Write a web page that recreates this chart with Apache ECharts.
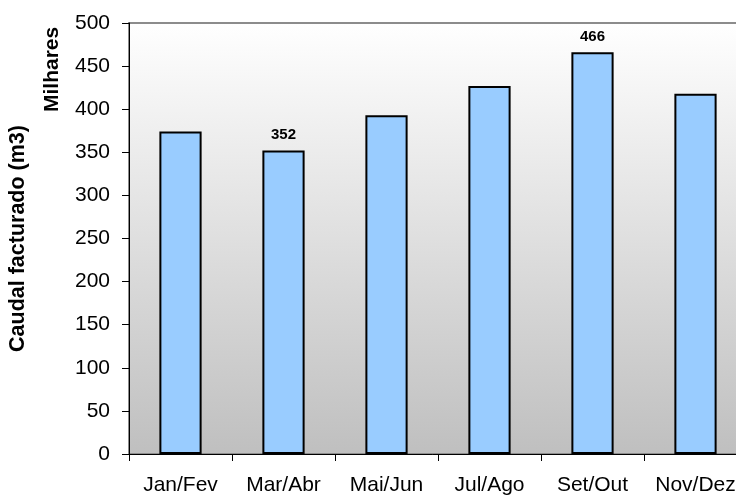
<!DOCTYPE html>
<html>
<head>
<meta charset="utf-8">
<script src="https://cdn.jsdelivr.net/npm/echarts@6/dist/echarts.min.js"></script>
<style>
  html, body { margin: 0; padding: 0; background: #fff; }
  #chart { width: 736px; height: 495px; }
</style>
</head>
<body>
<div id="chart"></div>
<script>
const categories = ['Jan/Fev', 'Mar/Abr', 'Mai/Jun', 'Jul/Ago', 'Set/Out', 'Nov/Dez'];
const caudal = [374, 352, 393, 427, 466, 418];
// only these bars carry a value label in the original
const labelled = ['Mar/Abr', 'Set/Out'];
const yTicks = { min: 0, max: 500, interval: 50 };

const chart = echarts.init(document.getElementById('chart'));
const font = 'Liberation Sans, Arial, sans-serif';

chart.setOption({
  animation: false,
  grid: {
    left: 129, top: 23, width: 618, height: 431,
    outerBoundsMode: 'none',
    containLabel: false,
    show: true,
    borderColor: '#8c8c8c',
    borderWidth: 2,
    backgroundColor: new echarts.graphic.LinearGradient(0, 0, 0, 1, [
      { offset: 0, color: '#ffffff' },
      { offset: 1, color: '#bfbfbf' }
    ])
  },
  graphic: [{
    type: 'text',
    x: 52, y: 112,
    rotation: Math.PI / 2,
    style: {
      text: 'Milhares',
      font: 'bold 21px ' + font,
      fill: '#000',
      align: 'left',
      verticalAlign: 'middle'
    }
  }],
  xAxis: {
    type: 'category',
    data: categories,
    axisLine: { lineStyle: { color: '#000', width: 1 } },
    axisTick: { show: true, interval: 0, length: 7, lineStyle: { color: '#000' } },
    axisLabel: { interval: 0, hideOverlap: false, color: '#000', fontSize: 21, fontFamily: font, margin: 21 }
  },
  yAxis: {
    type: 'value',
    min: yTicks.min, max: yTicks.max, interval: yTicks.interval,
    name: 'Caudal facturado (m3)',
    nameLocation: 'middle',
    nameGap: 100,
    nameTextStyle: { color: '#000', fontSize: 21.5, fontWeight: 'bold', fontFamily: font },
    axisLine: { show: true, lineStyle: { color: '#000', width: 1 } },
    axisTick: { show: true, length: 7, lineStyle: { color: '#000' } },
    axisLabel: { color: '#000', fontSize: 21, fontFamily: font, margin: 19 },
    splitLine: { show: false }
  },
  series: [{
    type: 'bar',
    data: caudal.map((v, i) => ({
      value: v,
      label: { show: labelled.includes(categories[i]) }
    })),
    barWidth: '41%',
    itemStyle: { color: '#99ccff', borderColor: '#000', borderWidth: 2 },
    label: {
      position: 'top',
      distance: 8,
      color: '#000',
      fontSize: 15,
      fontWeight: 'bold',
      fontFamily: font
    }
  }]
});
</script>
</body>
</html>
